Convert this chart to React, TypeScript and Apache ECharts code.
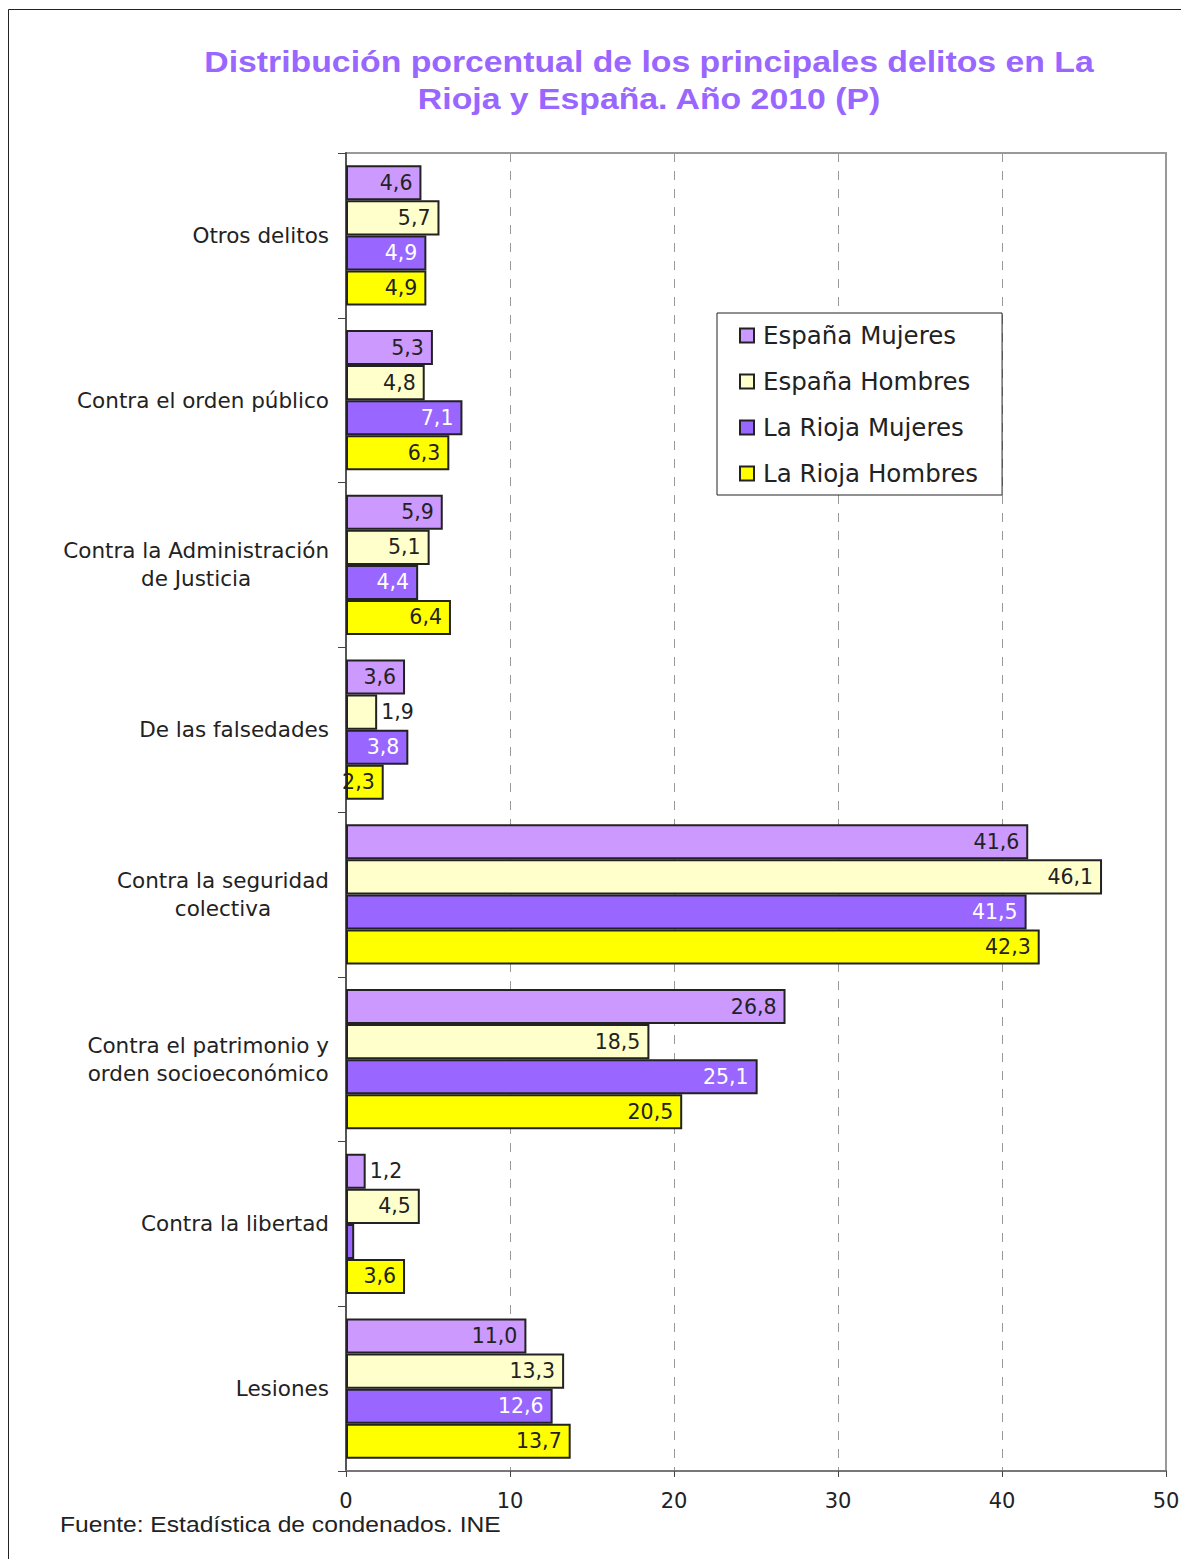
import React, { useEffect, useRef } from "react";
import * as echarts from "echarts";

const categories = [
  "Otros delitos",
  "Contra el orden público",
  "Contra la Administración\nde Justicia",
  "De las falsedades",
  "Contra la seguridad\ncolectiva",
  "Contra el patrimonio y\norden socioeconómico",
  "Contra la libertad",
  "Lesiones",
];

const seriesNames = ["España Mujeres", "España Hombres", "La Rioja Mujeres", "La Rioja Hombres"];

const espanaMujeres = [4.6, 5.3, 5.9, 3.6, 41.6, 26.8, 1.2, 11.0];
const espanaHombres = [5.7, 4.8, 5.1, 1.9, 46.1, 18.5, 4.5, 13.3];
const riojaMujeres = [4.9, 7.1, 4.4, 3.8, 41.5, 25.1, 0.5, 12.6];
const riojaHombres = [4.9, 6.3, 6.4, 2.3, 42.3, 20.5, 3.6, 13.7];

const xTicks = [0, 10, 20, 30, 40, 50];

const colors = ["#CC99FF", "#FFFFCC", "#9966FF", "#FFFF00"];
const labelColors = ["#222", "#222", "#fff", "#222"];

const FONT = "'DejaVu Sans', 'Liberation Sans', Arial, sans-serif";
const TITLE_FONT = "'Liberation Sans', Arial, Helvetica, sans-serif";

export default function App() {
  const ref = useRef<HTMLDivElement>(null);
  useEffect(() => {
    if (!ref.current) return;
    const chart = echarts.init(ref.current, null, { renderer: "svg" });
    const allData = [espanaMujeres, espanaHombres, riojaMujeres, riojaHombres];
    const series = allData.map((vals, si) => ({
      name: seriesNames[si],
      type: "bar",
      barGap: "0%",
      barCategoryGap: "15%",
      itemStyle: { color: colors[si], borderColor: "#222", borderWidth: 2 },
      label: {
        show: true,
        position: "insideRight",
        distance: 9,
        color: labelColors[si],
        fontSize: 20.5,
        fontFamily: FONT,
        formatter: (p: any) => Number(p.value).toFixed(1).replace(".", ","),
      },
      data: vals.map((v) => {
        if (v < 1) return { value: v, label: { show: false } };
        if (v < 2) return { value: v, label: { position: "right", distance: 4 } };
        return v;
      }),
    }));
    chart.setOption({
      animation: false,
      textStyle: { fontFamily: FONT },
      graphic: [
        {
          type: "rect",
          shape: { x: 0.5, y: 1.5, width: 1180, height: 1700 },
          style: { fill: "none", stroke: "#222", lineWidth: 1 },
          silent: true,
        },
        {
          type: "text",
          x: 641,
          y: 73,
          scaleX: 1.165,
          style: {
            text: "Distribución porcentual de los principales delitos en La\nRioja y España. Año 2010 (P)",
            fill: "#9966FF",
            font: `bold 29px ${TITLE_FONT}`,
            textAlign: "center",
            textVerticalAlign: "middle",
            lineHeight: 37,
          },
        },
        {
          type: "text",
          x: 52,
          y: 1516,
          scaleX: 1.12,
          style: {
            text: "Fuente: Estadística de condenados. INE",
            fill: "#222",
            font: `22px ${TITLE_FONT}`,
            textAlign: "left",
            textVerticalAlign: "middle",
          },
        },
      ],
      legend: {
        orient: "vertical",
        left: 709,
        top: 305,
        backgroundColor: "#fff",
        borderColor: "#222",
        borderWidth: 1,
        borderRadius: 0,
        padding: [10, 24, 9, 22],
        itemGap: 21,
        itemWidth: 14,
        itemHeight: 14,
        icon: "rect",
        itemStyle: { borderColor: "#222", borderWidth: 2 },
        textStyle: {
          fontSize: 24.5,
          lineHeight: 25,
          color: "#222",
          fontFamily: FONT,
          padding: [0, 0, 0, 4],
        },
        data: seriesNames,
      },
      grid: {
        left: 338,
        right: 23,
        top: 145,
        bottom: 88,
        show: true,
        borderColor: "#999",
        borderWidth: 2,
        backgroundColor: "transparent",
      },
      xAxis: {
        type: "value",
        min: xTicks[0],
        max: xTicks[xTicks.length - 1],
        interval: 10,
        axisLine: { show: true, lineStyle: { color: "#777", width: 2 } },
        axisTick: { show: true, length: 6, lineStyle: { color: "#444" } },
        axisLabel: { fontSize: 21, color: "#222", margin: 19, fontFamily: FONT },
        splitLine: { show: true, lineStyle: { type: [9, 9], color: "#999", width: 1 } },
      },
      yAxis: {
        type: "category",
        inverse: true,
        data: categories,
        axisLine: { show: true, lineStyle: { color: "#555", width: 2 } },
        axisTick: { show: true, length: 8, lineStyle: { color: "#444" } },
        axisLabel: {
          margin: 17,
          align: "right",
          formatter: (v: string) => v.split("\n").map((l) => `{c|${l}}`).join("\n"),
          rich: {
            c: { align: "center", fontSize: 21.5, color: "#222", lineHeight: 28, fontFamily: FONT },
          },
        },
      },
      series,
    });
    return () => chart.dispose();
  }, []);
  return <div ref={ref} style={{ width: 1181, height: 1551 }} />;
}
